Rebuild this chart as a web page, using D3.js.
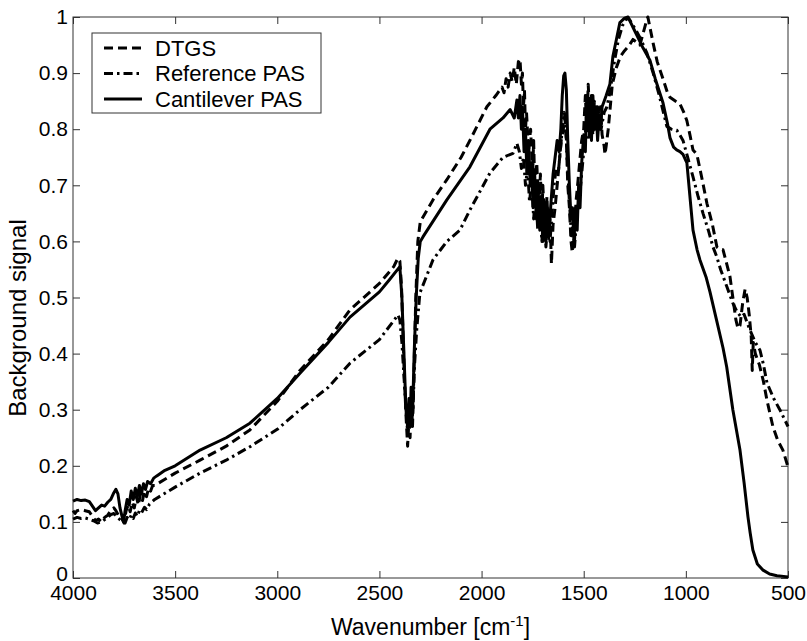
<!DOCTYPE html>
<html>
<head>
<meta charset="utf-8">
<script src="https://cdn.jsdelivr.net/npm/d3@7"></script>
<style>
  body { margin: 0; background: #fff; }
  svg text { font-family: Arial, "Liberation Sans", sans-serif; fill: #000; }
</style>
</head>
<body>
<div class="chart"></div>
<script>
// data: [wavenumber, signal]
const wnTicks = [4000, 3500, 3000, 2500, 2000, 1500, 1000, 500];
const signalTicks = [0, 0.1, 0.2, 0.3, 0.4, 0.5, 0.6, 0.7, 0.8, 0.9, 1];
const seriesNames = ["DTGS", "Reference PAS", "Cantilever PAS"];

const dtgs = [
  [4000,0.12],[3990,0.115],[3980,0.12],[3960,0.122],[3940,0.12],[3920,0.118],[3905,0.11],[3890,0.102],
  [3875,0.105],[3860,0.1],[3845,0.108],[3830,0.112],[3815,0.12],[3800,0.125],[3790,0.12],[3775,0.11],
  [3760,0.105],[3750,0.098],[3740,0.12],[3730,0.13],[3720,0.118],[3710,0.135],[3700,0.125],[3690,0.145],
  [3680,0.13],[3670,0.15],[3660,0.138],[3650,0.155],[3640,0.145],[3630,0.16],[3620,0.155],[3610,0.165],
  [3600,0.165],[3550,0.176],[3500,0.187],[3378,0.21],[3250,0.235],[3134,0.264],[3000,0.315],[2889,0.37],
  [2750,0.425],[2644,0.478],[2500,0.525],[2430,0.555],[2410,0.57],[2400,0.565],[2392,0.52],[2385,0.44],
  [2378,0.36],[2370,0.29],[2362,0.235],[2356,0.28],[2350,0.25],[2344,0.32],[2338,0.27],[2330,0.38],
  [2322,0.5],[2312,0.6],[2300,0.635],[2238,0.674],[2170,0.71],[2100,0.75],[2057,0.78],[1974,0.84],
  [1930,0.86],[1900,0.875],[1890,0.865],[1880,0.89],[1870,0.875],[1860,0.9],[1850,0.885],[1840,0.91],
  [1830,0.88],[1820,0.92],[1812,0.925],[1805,0.88],[1800,0.9],[1795,0.84],[1790,0.87],[1785,0.8],
  [1780,0.83],[1770,0.76],[1760,0.8],[1750,0.72],[1745,0.78],[1740,0.7],[1730,0.74],[1720,0.66],
  [1712,0.72],[1705,0.64],[1700,0.7],[1690,0.62],[1680,0.68],[1672,0.6],[1665,0.64],[1658,0.56],
  [1650,0.63],[1640,0.66],[1630,0.7],[1620,0.74],[1610,0.78],[1600,0.8],[1592,0.82],[1585,0.78],
  [1578,0.7],[1570,0.66],[1562,0.6],[1556,0.58],[1550,0.63],[1545,0.6],[1538,0.67],[1530,0.7],
  [1520,0.74],[1510,0.78],[1500,0.8],[1492,0.86],[1485,0.8],[1478,0.88],[1470,0.82],[1462,0.86],
  [1455,0.8],[1448,0.85],[1440,0.8],[1432,0.84],[1425,0.8],[1418,0.84],[1410,0.79],[1400,0.77],
  [1396,0.755],[1390,0.77],[1380,0.8],[1370,0.84],[1360,0.88],[1340,0.91],[1320,0.93],[1300,0.94],
  [1280,0.948],[1259,0.96],[1240,0.955],[1225,0.95],[1210,0.97],[1195,0.99],[1186,1.0],[1175,0.98],
  [1160,0.953],[1140,0.92],[1112,0.89],[1090,0.865],[1078,0.857],[1050,0.85],[1029,0.845],[1010,0.83],
  [995,0.815],[980,0.79],[965,0.763],[946,0.755],[920,0.71],[897,0.668],[870,0.63],[848,0.59],
  [830,0.585],[818,0.585],[800,0.56],[784,0.537],[770,0.5],[755,0.46],[745,0.445],[735,0.45],
  [722,0.49],[710,0.515],[700,0.5],[690,0.47],[680,0.43],[675,0.37],[670,0.42],[660,0.4],
  [640,0.38],[620,0.35],[603,0.317],[574,0.27],[550,0.245],[525,0.228],[500,0.198]
];

const refPas = [
  [4000,0.105],[3980,0.108],[3960,0.106],[3940,0.107],[3920,0.105],[3900,0.102],[3880,0.098],[3860,0.1],
  [3845,0.104],[3830,0.108],[3815,0.113],[3800,0.115],[3785,0.11],[3770,0.104],[3755,0.1],[3745,0.098],
  [3735,0.108],[3725,0.104],[3715,0.112],[3705,0.106],[3695,0.116],[3685,0.11],[3675,0.12],[3665,0.116],
  [3650,0.126],[3640,0.122],[3625,0.132],[3600,0.14],[3550,0.151],[3500,0.162],[3378,0.187],[3250,0.21],
  [3134,0.234],[3000,0.265],[2889,0.3],[2750,0.34],[2644,0.383],[2500,0.425],[2409,0.469],[2400,0.46],
  [2390,0.42],[2380,0.36],[2370,0.3],[2362,0.26],[2356,0.3],[2350,0.27],[2343,0.33],[2336,0.3],
  [2328,0.38],[2318,0.44],[2302,0.508],[2238,0.567],[2170,0.6],[2106,0.62],[2057,0.656],[1959,0.722],
  [1895,0.75],[1846,0.757],[1827,0.775],[1815,0.76],[1805,0.73],[1795,0.75],[1785,0.7],[1775,0.73],
  [1765,0.67],[1755,0.71],[1745,0.64],[1735,0.69],[1725,0.62],[1715,0.67],[1705,0.6],[1695,0.65],
  [1685,0.59],[1675,0.64],[1665,0.6],[1655,0.65],[1645,0.7],[1635,0.73],[1625,0.72],[1615,0.76],
  [1605,0.8],[1595,0.83],[1588,0.81],[1580,0.74],[1570,0.67],[1560,0.61],[1552,0.63],[1545,0.59],
  [1535,0.64],[1525,0.67],[1515,0.7],[1505,0.74],[1495,0.78],[1485,0.82],[1475,0.78],[1465,0.83],
  [1455,0.79],[1445,0.83],[1435,0.8],[1425,0.83],[1415,0.8],[1400,0.83],[1386,0.84],[1370,0.87],
  [1350,0.92],[1330,0.96],[1310,0.985],[1290,0.998],[1275,0.995],[1250,0.98],[1220,0.96],[1190,0.935],
  [1160,0.9],[1130,0.86],[1110,0.83],[1093,0.805],[1070,0.8],[1044,0.798],[1030,0.79],[1014,0.78],
  [995,0.755],[965,0.715],[940,0.68],[916,0.65],[890,0.62],[867,0.59],[848,0.572],[830,0.55],
  [800,0.52],[770,0.49],[750,0.475],[730,0.465],[715,0.47],[700,0.455],[686,0.442],[660,0.42],
  [637,0.406],[620,0.38],[603,0.348],[570,0.32],[540,0.3],[500,0.27]
];

const cantPas = [
  [4000,0.137],[3980,0.14],[3960,0.138],[3940,0.139],[3920,0.136],[3905,0.128],[3890,0.12],[3875,0.125],
  [3860,0.13],[3845,0.128],[3830,0.135],[3815,0.14],[3800,0.152],[3790,0.158],[3780,0.15],[3770,0.125],
  [3760,0.11],[3752,0.1],[3745,0.12],[3735,0.14],[3725,0.13],[3715,0.155],[3705,0.14],[3695,0.16],
  [3685,0.145],[3675,0.165],[3665,0.15],[3655,0.168],[3645,0.158],[3635,0.172],[3620,0.168],[3605,0.178],
  [3590,0.182],[3550,0.192],[3500,0.2],[3378,0.228],[3250,0.25],[3134,0.276],[3000,0.32],[2889,0.365],
  [2750,0.42],[2644,0.465],[2500,0.51],[2450,0.532],[2400,0.555],[2390,0.5],[2380,0.4],[2370,0.3],
  [2362,0.27],[2355,0.32],[2350,0.27],[2345,0.34],[2338,0.29],[2330,0.4],[2320,0.5],[2310,0.57],
  [2300,0.6],[2287,0.608],[2170,0.674],[2057,0.733],[1959,0.8],[1895,0.82],[1860,0.835],[1840,0.82],
  [1827,0.852],[1820,0.82],[1812,0.86],[1805,0.8],[1800,0.84],[1792,0.76],[1785,0.8],[1778,0.72],
  [1770,0.78],[1762,0.7],[1755,0.74],[1748,0.66],[1740,0.72],[1732,0.64],[1725,0.7],[1715,0.62],
  [1708,0.68],[1700,0.6],[1692,0.67],[1685,0.6],[1678,0.66],[1670,0.62],[1660,0.67],[1650,0.72],
  [1640,0.75],[1630,0.78],[1620,0.76],[1612,0.8],[1605,0.86],[1598,0.895],[1592,0.9],[1585,0.87],
  [1578,0.78],[1570,0.7],[1562,0.64],[1555,0.66],[1548,0.6],[1540,0.66],[1532,0.62],[1525,0.7],
  [1518,0.66],[1510,0.74],[1500,0.79],[1492,0.76],[1485,0.86],[1478,0.8],[1470,0.84],[1462,0.78],
  [1455,0.86],[1448,0.8],[1440,0.84],[1432,0.78],[1425,0.82],[1418,0.8],[1410,0.84],[1400,0.85],
  [1390,0.86],[1372,0.88],[1357,0.93],[1340,0.96],[1323,0.99],[1300,0.998],[1283,1.0],[1270,0.99],
  [1250,0.975],[1230,0.96],[1210,0.945],[1176,0.923],[1150,0.89],[1112,0.847],[1090,0.81],[1078,0.785],
  [1060,0.768],[1045,0.763],[1029,0.76],[1014,0.755],[995,0.74],[980,0.68],[965,0.62],[945,0.585],
  [931,0.567],[900,0.535],[882,0.51],[850,0.46],[818,0.41],[800,0.376],[770,0.3],[735,0.228],
  [715,0.17],[696,0.109],[685,0.08],[672,0.05],[650,0.025],[622,0.014],[590,0.007],[554,0.004],[500,0.002]
];

const width = 807;
const height = 641;
const margin = { top: 17, right: 19, bottom: 63, left: 73 };

const svg = d3.select('.chart')
  .append('svg')
  .attr('width', width)
  .attr('height', height);

const x = d3.scaleLinear()
  .domain([4000, 500])
  .range([margin.left, width - margin.right]);

const y = d3.scaleLinear()
  .domain([0, 1])
  .range([height - margin.bottom, margin.top]);

const tick = 7;
const tickFont = '21px';
const legendFont = '22px';
const labelFont = '24px';

// axes, MATLAB style: ticks inward on all four sides
const axisBottom = svg.append('g')
  .attr('transform', `translate(0,${y(0)})`)
  .call(d3.axisBottom(x).tickValues(wnTicks).tickSize(-tick).tickSizeOuter(0).tickPadding(7).tickFormat(d => d));

const axisLeft = svg.append('g')
  .attr('transform', `translate(${x(4000)},0)`)
  .call(d3.axisLeft(y).tickValues(signalTicks).tickSize(-tick).tickSizeOuter(0).tickPadding(5).tickFormat(d => d));

const axisTop = svg.append('g')
  .attr('transform', `translate(0,${y(1)})`)
  .call(d3.axisTop(x).tickValues(wnTicks).tickSize(-tick).tickSizeOuter(0).tickFormat(''));

const axisRight = svg.append('g')
  .attr('transform', `translate(${x(500)},0)`)
  .call(d3.axisRight(y).tickValues(signalTicks).tickSize(-tick).tickSizeOuter(0).tickFormat(''));

[axisBottom, axisLeft, axisTop, axisRight].forEach(g => {
  g.select('.domain').remove();
  g.selectAll('line').attr('stroke', '#333');
  g.selectAll('text').attr('font-size', tickFont).attr('font-family', 'Arial, "Liberation Sans", sans-serif');
});

// lift the "0" label a touch so it clears "4000"
axisLeft.selectAll('.tick text').filter(d => d === 0).attr('dy', '0.1em');

svg.append('rect')
  .attr('x', x(4000))
  .attr('y', y(1))
  .attr('width', x(500) - x(4000))
  .attr('height', y(0) - y(1))
  .attr('fill', 'none')
  .attr('stroke', '#333')
  .attr('stroke-width', 1);

// curves
const line = d3.line()
  .x(d => x(d[0]))
  .y(d => y(d[1]));

const styles = [
  { data: dtgs, dash: '9,5' },
  { data: refPas, dash: '9,4,2.5,4' },
  { data: cantPas, dash: null }
];

svg.append('g')
  .selectAll('path')
  .data(styles)
  .join('path')
  .attr('d', d => line(d.data))
  .attr('fill', 'none')
  .attr('stroke', '#000')
  .attr('stroke-width', 3)
  .attr('stroke-linejoin', 'round')
  .attr('stroke-dasharray', d => d.dash);

// axis labels
svg.append('text')
  .attr('x', (x(4000) + x(500)) / 2)
  .attr('y', 635)
  .attr('text-anchor', 'middle')
  .attr('font-size', '23px')
  .call(t => {
    t.append('tspan').text('Wavenumber [cm');
    t.append('tspan').attr('dy', -9).attr('font-size', '15px').text('-1');
    t.append('tspan').attr('dy', 9).text(']');
  });

svg.append('text')
  .attr('transform', 'translate(26,318) rotate(-90)')
  .attr('text-anchor', 'middle')
  .attr('font-size', labelFont)
  .text('Background signal');

// legend
const legend = svg.append('g');

legend.append('rect')
  .attr('x', 92)
  .attr('y', 33)
  .attr('width', 229)
  .attr('height', 80)
  .attr('fill', '#fff')
  .attr('stroke', '#333')
  .attr('stroke-width', 1);

const rows = legend.selectAll('g.row')
  .data(styles)
  .join('g')
  .attr('class', 'row')
  .attr('transform', (d, i) => `translate(0,${48 + i * 25.5})`);

rows.append('line')
  .attr('x1', 104)
  .attr('x2', 142)
  .attr('stroke', '#000')
  .attr('stroke-width', 3)
  .attr('stroke-dasharray', d => d.dash);

rows.append('text')
  .attr('x', 155)
  .attr('dy', '0.35em')
  .attr('font-size', legendFont)
  .text((d, i) => seriesNames[i]);
</script>
</body>
</html>
